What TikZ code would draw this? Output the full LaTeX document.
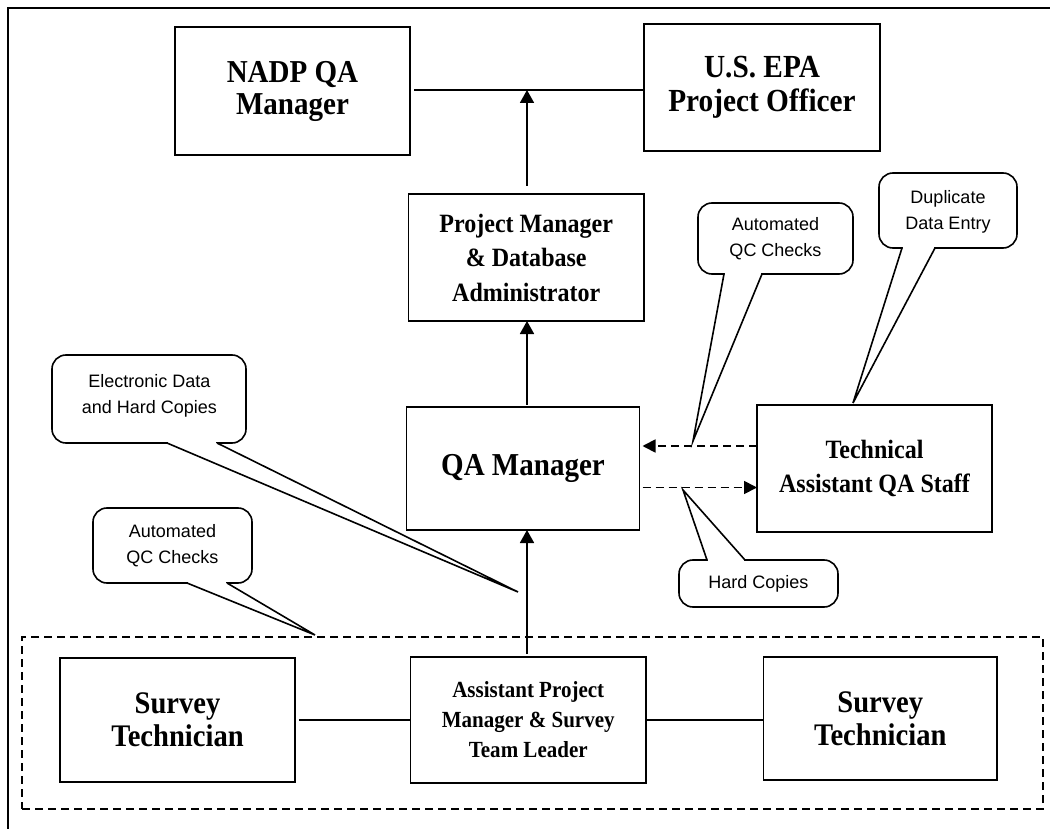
\documentclass[tikz,border=0pt]{standalone}
\usepackage{fontspec}
\setmainfont{Liberation Serif}
\setsansfont{Liberation Sans}
\newfontfamily\boxfont{Liberation Serif}[FakeStretch=0.91]
\usetikzlibrary{arrows.meta}

\tikzset{
  box/.style={draw, line width=1.8pt, inner sep=0pt, outer sep=0pt, align=center},
  group/.style={draw, line width=1.6pt, dash pattern=on 8pt off 5pt, inner sep=0pt, outer sep=0pt},
  conn/.style={line width=1.8pt},
  uparrow/.style={conn, -{Triangle[length=13pt,width=14pt]}},
  dasharrow/.style={conn, dash pattern=on 8pt off 5pt, -{Triangle[length=13pt,width=13pt]}},
  cbox/.style={draw, fill=white, line width=1.6pt, rounded corners=14pt},
  ctail/.style={line width=1.6pt},
  ctext/.style={font=\sffamily\fontsize{18}{26}\selectfont, align=center, inner sep=0pt},
}

% speech bubble: x0 y0 x1 y1, tail base left/right x, tail base y, tail tip
\newcommand\speechbubble[8]{%
  \draw[cbox] (#1,#2) rectangle (#3,#4);
  \fill[white] (#5+1,#7-1.3) rectangle (#6-1,#7+1.3);
  \fill[white] (#5+0.6,#7) -- (#6-0.6,#7) -- (#8) -- cycle;
  \draw[ctail] (#5,#7) -- (#8) -- (#6,#7);
}

\begin{document}
\begin{tikzpicture}[x=1pt,y=-1pt]
\useasboundingbox (0,0) rectangle (1050,829);

% outer frame
\draw[line width=1.8pt] (8,8) rectangle (1080,860);

% organisation boxes
\node[box, minimum width=235pt, minimum height=128pt,
      font=\boxfont\bfseries\fontsize{31.9}{32}\selectfont] (nadp) at (292.5,91) {NADP QA\\Manager};
\node[box, minimum width=236pt, minimum height=127pt,
      font=\boxfont\bfseries\fontsize{32.2}{34}\selectfont] (epa) at (762,87.5) {U.S. EPA\\Project Officer};
\node[box, minimum width=235.5pt, minimum height=127pt,
      font=\boxfont\bfseries\fontsize{26.4}{34.5}\selectfont] (pm) at (526.25,257.5) {Project Manager\\\& Database\\Administrator};
\node[box, minimum width=233pt, minimum height=123pt,
      font=\boxfont\bfseries\fontsize{31.9}{34}\selectfont] (qa) at (523,468.5) {QA Manager};
\node[box, minimum width=235pt, minimum height=127pt,
      font=\boxfont\bfseries\fontsize{26.4}{34}\selectfont] (ta) at (874.5,468.5) {Technical\\Assistant QA Staff};

% survey team
\node[group, minimum width=1021pt, minimum height=172pt] (team) at (532.5,723) {};
\node[box, minimum width=235pt, minimum height=124pt,
      font=\boxfont\bfseries\fontsize{31.4}{33}\selectfont] (st1) at (177.5,720) {Survey\\Technician};
\node[box, minimum width=235.5pt, minimum height=126pt,
      font=\boxfont\bfseries\fontsize{23.1}{30}\selectfont] (tl) at (528.25,720) {Assistant Project\\Manager \& Survey\\Team Leader};
\node[box, minimum width=233.5pt, minimum height=123pt,
      font=\boxfont\bfseries\fontsize{31.4}{33}\selectfont] (st2) at (880.25,718.5) {Survey\\Technician};

% callout tips
\coordinate (tipelec) at (518,592);
\coordinate (tipautoL) at (315,635);
\coordinate (tipautoR) at (693,441);
\coordinate (tipdup) at (853,403);
\coordinate (tiphard) at (683,490);

% callouts
\speechbubble{52}{355}{246}{443}{167}{217}{443}{tipelec}
\node[ctext] (elec) at (149.5,396) {Electronic Data\\and Hard Copies};
\speechbubble{93}{508}{252}{583}{187}{227}{583}{tipautoL}
\node[ctext] (autoL) at (172.5,545.5) {Automated\\QC Checks};
\speechbubble{698}{203}{853}{274}{724}{762}{274}{tipautoR}
\node[ctext] (autoR) at (775.5,239) {Automated\\QC Checks};
\speechbubble{879}{173}{1017}{248}{902}{935}{248}{tipdup}
\node[ctext] (dup) at (948,212) {Duplicate\\Data Entry};
\speechbubble{679}{560}{838}{607}{707}{745}{560}{tiphard}
\node[ctext] (hard) at (758.5,584) {Hard Copies};

% reporting lines
\coordinate (join) at (527,90);
\draw[conn, shorten <=4pt] (nadp.east |- join) -- (epa.west |- join);
\draw[uparrow, shorten <=8pt] (pm.north -| join) -- (join);
\draw[uparrow, shorten <=2.5pt] (qa.north -| join) -- (pm.south -| join);
\draw[uparrow, shorten <=3pt] (tl.north -| join) -- (qa.south -| join);
\draw[dasharrow, shorten >=3pt] ([yshift=22.5pt]ta.west) -- ([yshift=22.5pt]qa.east);
\draw[dasharrow, shorten <=3pt] ([yshift=-19pt]qa.east) -- ([yshift=-19pt]ta.west);
\draw[conn, shorten <=4pt] (st1.east) -- (tl.west);
\draw[conn] (tl.east) -- (st2.west |- tl.east);
\end{tikzpicture}
\end{document}
